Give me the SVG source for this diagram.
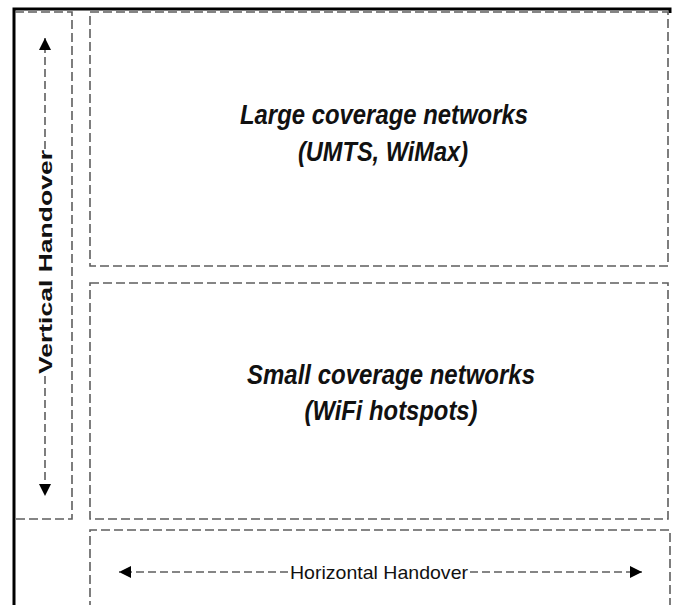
<svg xmlns="http://www.w3.org/2000/svg" width="674" height="605" viewBox="0 0 674 605">
  <style>
    .frame { stroke: #000; stroke-width: 3; fill: none; }
    .box { fill: none; stroke: #5e5e5e; stroke-width: 1.6; stroke-dasharray: 9 4; }
    .flow { stroke: #5e5e5e; stroke-width: 1.6; stroke-dasharray: 8 4; fill: none; }
    .title { font-family: "Liberation Sans", Arial, sans-serif; font-style: italic; font-weight: bold; font-size: 28px; fill: #111; text-anchor: middle; }
    .label { font-family: "Liberation Sans", Arial, sans-serif; font-size: 19px; fill: #111; text-anchor: middle; }
  </style>
  <defs>
    <marker id="arrow" viewBox="0 0 10 10" refX="10" refY="5" markerWidth="14" markerHeight="12" markerUnits="userSpaceOnUse" orient="auto">
      <path d="M0,0 L10,5 L0,10 z" fill="#000"/>
    </marker>
  </defs>
  <rect width="674" height="605" fill="#fff"/>

  <!-- outer frame -->
  <path class="frame" d="M14,605 L14,9 L670,9 L670,13"/>

  <!-- vertical handover column -->
  <g id="vertical-handover">
    <path class="box" d="M15,12 L72,12 L72,519 L15,519"/>
    <text class="label" font-weight="bold" font-size="20" transform="translate(52,262) rotate(-90)" textLength="224" lengthAdjust="spacingAndGlyphs">Vertical Handover</text>
  </g>

  <!-- large coverage networks -->
  <g id="large-coverage">
    <rect class="box" x="90" y="12" width="578" height="254"/>
    <text class="title" x="384" y="124" textLength="288" lengthAdjust="spacingAndGlyphs">Large coverage networks</text>
    <text class="title" x="383" y="161" textLength="170" lengthAdjust="spacingAndGlyphs">(UMTS, WiMax)</text>
  </g>

  <!-- small coverage networks -->
  <g id="small-coverage">
    <rect class="box" x="90" y="283" width="578" height="236"/>
    <text class="title" x="391" y="384" textLength="288" lengthAdjust="spacingAndGlyphs">Small coverage networks</text>
    <text class="title" x="391" y="420" textLength="173" lengthAdjust="spacingAndGlyphs">(WiFi hotspots)</text>
  </g>

  <!-- horizontal handover row -->
  <g id="horizontal-handover">
    <path class="box" d="M90,610 L90,530 L670,530 L670,610"/>
    <text class="label" x="379" y="579" textLength="178" lengthAdjust="spacingAndGlyphs">Horizontal Handover</text>
  </g>

  <!-- handover arrows -->
  <g id="connectors">
    <line class="flow" x1="45" y1="149" x2="45" y2="38" marker-end="url(#arrow)"/>
    <line class="flow" x1="45" y1="376" x2="45" y2="496" marker-end="url(#arrow)"/>
    <line class="flow" x1="288" y1="572" x2="119" y2="572" marker-end="url(#arrow)"/>
    <line class="flow" x1="470" y1="572" x2="642" y2="572" marker-end="url(#arrow)"/>
  </g>
</svg>
